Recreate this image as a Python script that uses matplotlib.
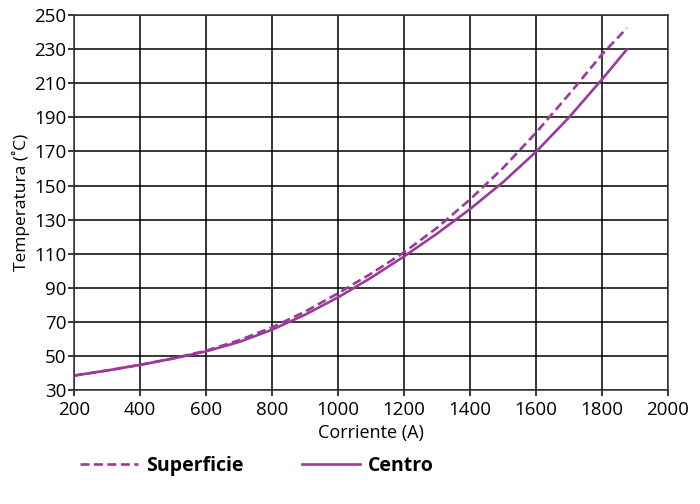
import matplotlib
matplotlib.use("Agg")
import matplotlib.pyplot as plt
from matplotlib.lines import Line2D

current = [200, 300, 400, 500, 600, 700, 800, 900, 1000, 1100, 1200, 1300, 1400, 1500, 1600, 1700, 1800, 1875]
superficie = [38.5, 41.5, 44.8, 48.6, 53.1, 59.2, 66.8, 76.0, 86.8, 98.3, 110.8, 125.2, 141.8, 160.3, 181.0, 203.5, 227.0, 242.3]
centro = [38.5, 41.5, 44.8, 48.5, 52.7, 58.2, 65.4, 74.2, 84.4, 95.9, 108.4, 121.8, 136.2, 152.0, 169.8, 190.0, 212.3, 229.8]

xticks = list(range(200, 2001, 200))
yticks = list(range(30, 251, 20))

plt.rcParams['font.family'] = ['Open Sans', 'DejaVu Sans']
color = '#9b3a9b'
dash = (0, (3.4, 1.7))

fig = plt.figure(figsize=(7.0, 5.04), dpi=100)
ax = fig.add_axes([0.1057, 0.226, 0.8486, 0.744])

ax.plot(current, superficie, color=color, lw=1.9, ls=dash)
ax.plot(current, centro, color=color, lw=1.9)

ax.set_xlim(200, 2000)
ax.set_ylim(30, 250)
ax.set_xticks(xticks)
ax.set_yticks(yticks)
ax.grid(True, color='black', lw=1.1)
ax.set_axisbelow(True)
for s in ax.spines.values():
    s.set_color('#333333')
    s.set_linewidth(1.1)
ax.tick_params(direction='out', length=4, width=1.1, labelsize=13.5, colors='black')
ax.tick_params(axis='x', pad=3.5)
ax.tick_params(axis='y', pad=1.5)
ax.set_xlabel('Corriente (A)', fontsize=13, labelpad=4)
ax.set_ylabel('Temperatura (˚C)', fontsize=12.5, labelpad=3)

handles = [Line2D([], [], color=color, lw=1.9, ls=dash),
           Line2D([], [], color=color, lw=1.9)]
leg = fig.legend(handles, ['Superficie', 'Centro'], loc='center left',
                 bbox_to_anchor=(80 / 700, 0.075), ncol=2, frameon=False,
                 prop={'weight': 'bold', 'size': 14}, handlelength=3.0,
                 columnspacing=3.0, handletextpad=0.4, borderpad=0,
                 borderaxespad=0)

fig.savefig('out.png', dpi=100)
